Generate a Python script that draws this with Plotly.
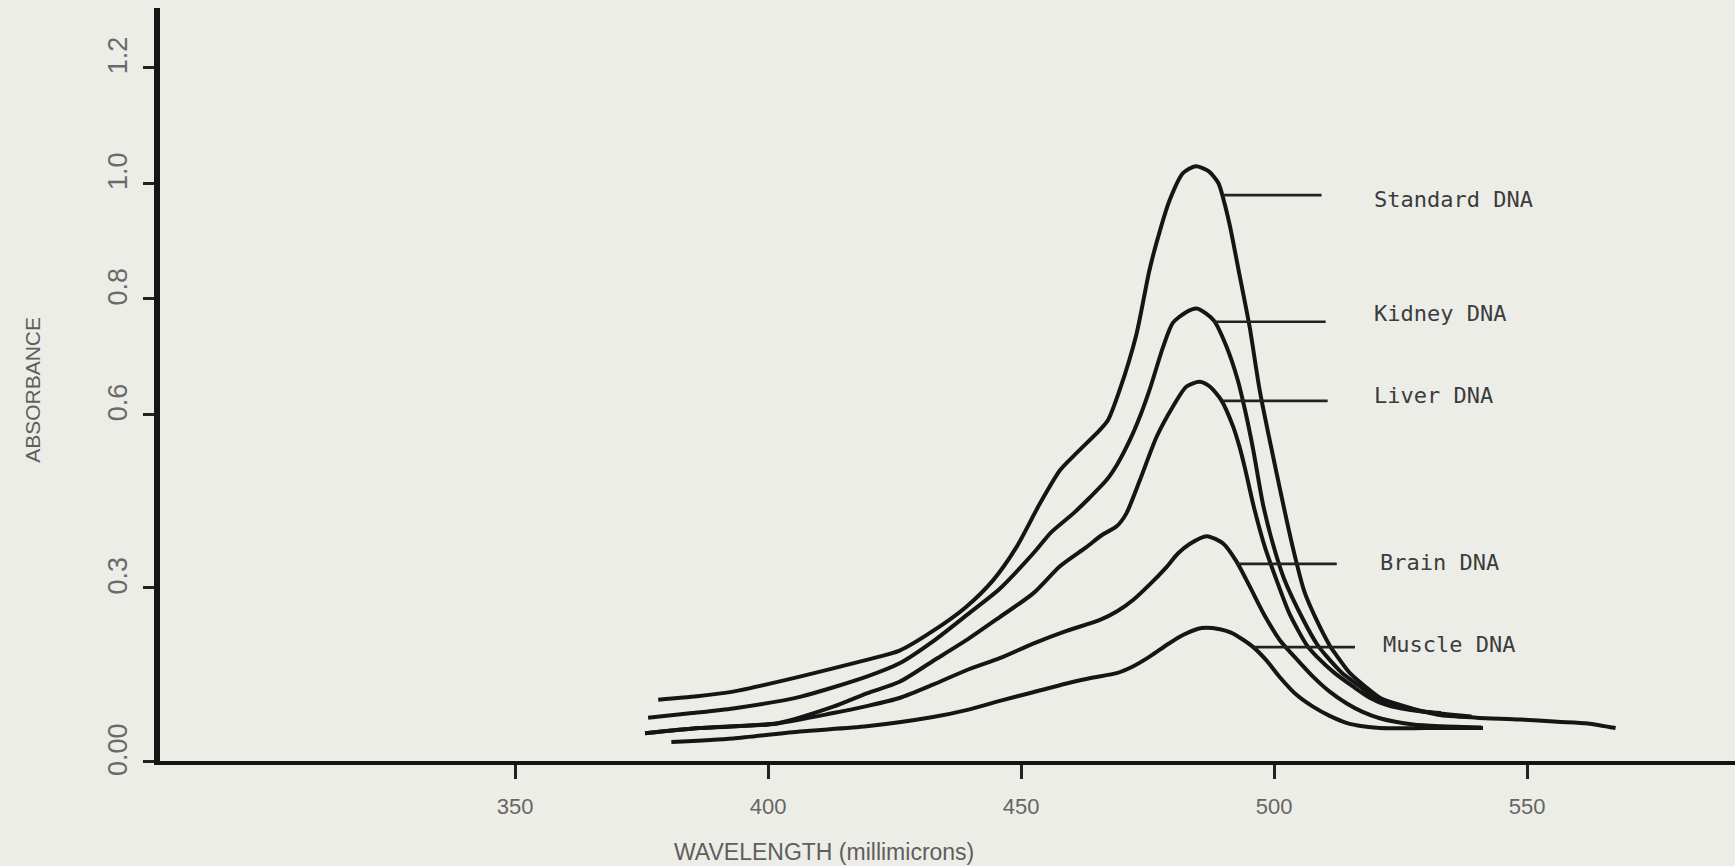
import plotly.graph_objects as go

# ---- data ----
std_x = [378.3, 386.0, 393.1, 406.3, 419.5, 426.0, 432.6, 439.2, 444.5, 449.1, 453.7, 457.7, 461.0, 465.6,
         467.2, 469.5, 472.8, 475.4, 477.5, 479.4, 482.0, 484.5, 487.0, 489.0, 490.0, 491.3, 493.2, 495.2,
         497.2, 500.8, 503.7, 506.0, 508.4, 511.0, 512.0, 515.0, 518.0, 521.0, 524.9, 532.4, 540.0, 548.6,
         556.0, 562.0, 567.5]
std_y = [0.106, 0.112, 0.120, 0.146, 0.175, 0.191, 0.225, 0.267, 0.313, 0.370, 0.445, 0.503, 0.533, 0.573,
         0.590, 0.642, 0.738, 0.850, 0.919, 0.971, 1.017, 1.029, 1.021, 1.000, 0.972, 0.925, 0.840, 0.750,
         0.640, 0.486, 0.370, 0.293, 0.244, 0.200, 0.187, 0.152, 0.129, 0.109, 0.097, 0.080, 0.075, 0.072,
         0.068, 0.065, 0.057]

kid_x = [376.3, 385.0, 393.1, 406.3, 419.5, 426.0, 432.6, 439.2, 445.8, 452.4, 456.0, 460.3, 463.5, 466.9,
         469.0, 471.5, 473.5, 475.4, 478.1, 480.0, 482.7, 484.7, 486.6, 488.2, 490.6, 492.8, 494.3, 495.9,
         497.8, 499.8, 502.0, 505.8, 508.5, 510.4, 513.5, 517.0, 520.0, 523.5, 529.0, 534.1, 539.0]
kid_y = [0.075, 0.083, 0.091, 0.111, 0.146, 0.169, 0.207, 0.252, 0.298, 0.359, 0.396, 0.428, 0.455, 0.486,
         0.513, 0.555, 0.596, 0.642, 0.717, 0.758, 0.777, 0.783, 0.774, 0.761, 0.717, 0.660, 0.606, 0.538,
         0.445, 0.375, 0.315, 0.244, 0.202, 0.181, 0.152, 0.129, 0.109, 0.097, 0.086, 0.081, 0.077]

liv_x = [375.7, 386.5, 401.7, 412.9, 419.5, 426.0, 432.6, 439.2, 445.8, 452.4, 457.7, 462.9, 466.0, 468.9,
         470.8, 473.5, 476.8, 480.0, 482.7, 485.3, 487.3, 489.6, 491.9, 493.2, 494.3, 496.0, 498.2, 500.5,
         503.1, 506.5, 508.4, 512.0, 515.6, 519.0, 522.2, 527.0, 533.0]
liv_y = [0.048, 0.057, 0.065, 0.094, 0.117, 0.137, 0.173, 0.209, 0.249, 0.290, 0.337, 0.370, 0.391, 0.406,
         0.428, 0.486, 0.561, 0.613, 0.648, 0.656, 0.648, 0.624, 0.579, 0.543, 0.505, 0.440, 0.370, 0.313,
         0.254, 0.200, 0.181, 0.152, 0.129, 0.109, 0.097, 0.088, 0.083]

brn_x = [375.7, 386.5, 401.7, 412.9, 419.5, 426.0, 432.6, 439.2, 445.8, 452.4, 459.0, 465.6, 469.0, 472.2,
         475.5, 478.8, 481.0, 483.4, 486.7, 490.0, 492.6, 495.2, 498.0, 501.15, 504.5, 507.7, 511.0, 514.3,
         517.5, 520.9, 527.5, 533.0, 537.4, 541.0]
brn_y = [0.048, 0.057, 0.065, 0.083, 0.095, 0.109, 0.132, 0.157, 0.178, 0.203, 0.225, 0.244, 0.259, 0.279,
         0.306, 0.336, 0.359, 0.376, 0.389, 0.376, 0.345, 0.302, 0.254, 0.209, 0.176, 0.146, 0.120, 0.100,
         0.085, 0.074, 0.063, 0.060, 0.059, 0.058]

mus_x = [380.9, 393.1, 406.3, 419.5, 432.6, 439.2, 445.8, 452.4, 459.0, 464.0, 468.9, 472.2, 475.5, 479.0,
         482.0, 485.7, 489.3, 491.5, 493.5, 495.9, 498.5, 501.15, 504.5, 507.7, 511.0, 514.3, 517.5, 520.9,
         530.0, 541.3]
mus_y = [0.033, 0.039, 0.051, 0.060, 0.076, 0.088, 0.104, 0.119, 0.134, 0.144, 0.152, 0.164, 0.181, 0.202,
         0.218, 0.230, 0.228, 0.222, 0.212, 0.197, 0.174, 0.145, 0.114, 0.094, 0.078, 0.066, 0.060, 0.057,
         0.057, 0.057]

series_names = ["Standard DNA", "Kidney DNA", "Liver DNA", "Brain DNA", "Muscle DNA"]
series_x = [std_x, kid_x, liv_x, brn_x, mus_x]
series_y = [std_y, kid_y, liv_y, brn_y, mus_y]

# leader lines (x start, x end, y) and label anchor positions
leader_x0 = [489.9, 488.1, 489.9, 492.6, 496.0]
leader_x1 = [509.4, 510.2, 510.6, 512.4, 516.0]
leader_y = [0.979, 0.760, 0.623, 0.341, 0.197]
label_x = [519.3, 519.3, 519.3, 520.5, 521.1]
label_y = [0.972, 0.775, 0.633, 0.344, 0.202]

x_tickvals = [350, 400, 450, 500, 550]
x_ticktext = ["350", "400", "450", "500", "550"]
y_tickvals = [0.0, 0.3, 0.6, 0.8, 1.0, 1.2]
y_ticktext = ["0.00", "0.3", "0.6", "0.8", "1.0", "1.2"]

x_range = [279.84, 591.1]
y_range = [0.0, 1.3028]

# ---- styling ----
BG = "#EDEDE8"
INK = "#151515"
GREY = "#5e5e5e"
SANS = "Liberation Sans, Arial, sans-serif"
MONO = "DejaVu Sans Mono, Liberation Mono, monospace"

fig = go.Figure()

for name, xs, ys in zip(series_names, series_x, series_y):
    fig.add_trace(go.Scatter(
        x=xs, y=ys, mode="lines", name=name,
        line=dict(color=INK, width=4, shape="spline", smoothing=0.7),
        hoverinfo="skip", showlegend=False))

for x0, x1, y in zip(leader_x0, leader_x1, leader_y):
    fig.add_trace(go.Scatter(
        x=[x0, x1], y=[y, y], mode="lines",
        line=dict(color="#222222", width=2.6),
        hoverinfo="skip", showlegend=False))

for name, lx, ly in zip(series_names, label_x, label_y):
    fig.add_annotation(
        x=lx, y=ly, xref="x", yref="y", text=name, showarrow=False,
        xanchor="left", yanchor="middle",
        font=dict(family=MONO, size=22, color="#3c3c3c"))

# y tick labels (rotated, sitting slightly above their tick marks as in the original)
for tv, tt in zip(y_tickvals, y_ticktext):
    fig.add_annotation(
        x=-0.0267, y=tv, xref="paper", yref="y", text=tt, showarrow=False,
        textangle=-90, xanchor="center", yanchor="middle", yshift=12,
        font=dict(family=SANS, size=27, color="#6a6a6a"))

fig.add_annotation(
    x=-0.0806, y=0.493, xref="paper", yref="paper", text="ABSORBANCE",
    showarrow=False, textangle=-90, xanchor="center", yanchor="middle",
    font=dict(family=SANS, size=21, color=GREY))

fig.add_annotation(
    x=0.4216, y=-0.1208, xref="paper", yref="paper", text="WAVELENGTH (millimicrons)",
    showarrow=False, xanchor="center", yanchor="middle",
    font=dict(family=SANS, size=23, color=GREY))

fig.update_layout(
    width=1735, height=866, autosize=False,
    margin=dict(l=160, r=0, t=8, b=105, pad=0),
    paper_bgcolor=BG, plot_bgcolor=BG,
    xaxis=dict(
        range=x_range, showgrid=False, zeroline=False,
        showline=True, linecolor=INK, linewidth=4,
        ticks="outside", ticklen=14, tickwidth=2.5, tickcolor="#222222",
        tickvals=x_tickvals, ticktext=x_ticktext, ticklabelstandoff=9,
        tickfont=dict(family=SANS, size=22, color="#666666")),
    yaxis=dict(
        range=y_range, showgrid=False, zeroline=False,
        showline=True, linecolor=INK, linewidth=6,
        ticks="outside", ticklen=11, tickwidth=2.5, tickcolor="#222222",
        tickvals=y_tickvals, showticklabels=False),
)

fig.write_html("out.html")
